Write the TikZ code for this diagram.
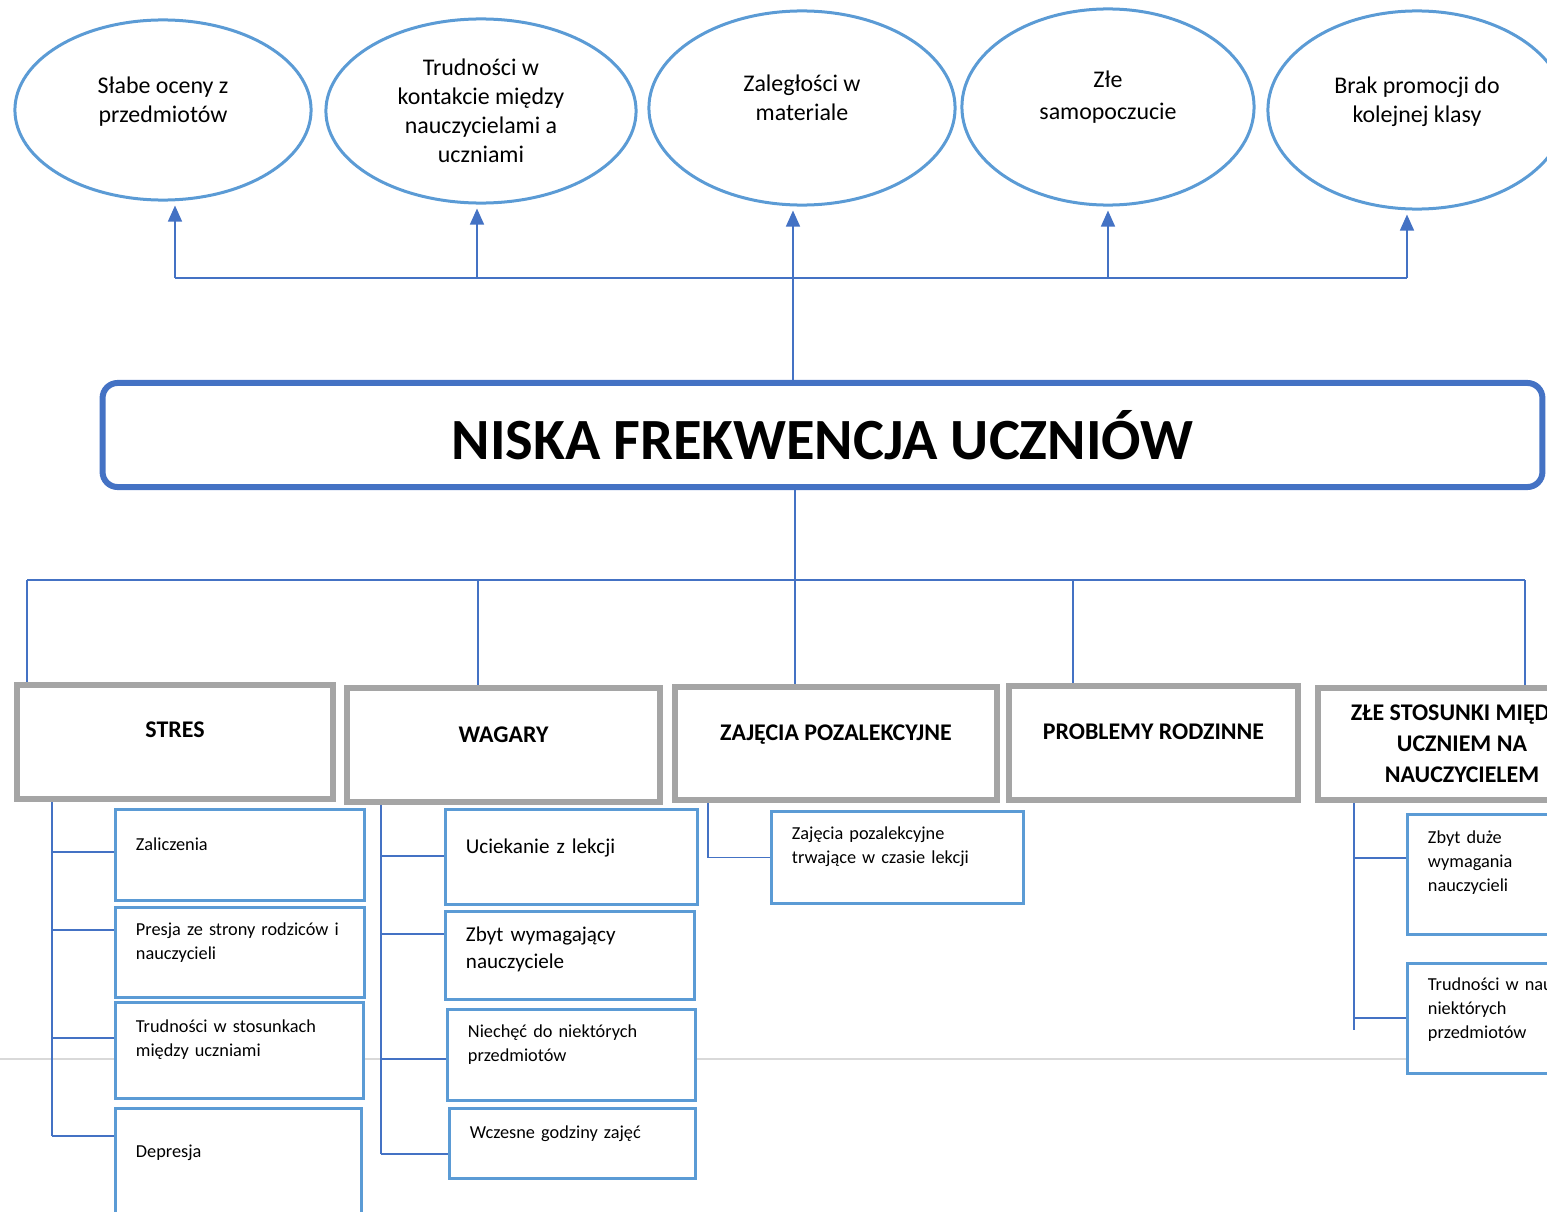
\documentclass[tikz,border=0pt]{standalone}
\usepackage{fontspec}
\setmainfont{Carlito}
\usetikzlibrary{shapes.geometric, arrows.meta}

\definecolor{effectblue}{HTML}{5B9BD5}
\definecolor{linkblue}{HTML}{4472C4}
\definecolor{causegray}{HTML}{A5A5A5}
\definecolor{pagegray}{HTML}{D9D9D9}

\begin{document}
\begin{tikzpicture}[x=0.01cm, y=-0.01cm]
	\tikzstyle{link}=[draw,line width=0.015cm,linkblue]
	\tikzstyle{arr}=[link,-{Triangle[width=0.14cm,length=0.16cm]},shorten >=0.04cm]
	\tikzstyle{effect}=[draw=effectblue,line width=0.03cm,ellipse,inner sep=0,align=center,font=\fontsize{6.8}{8.25}\selectfont]
	\tikzstyle{cause}=[draw=causegray,line width=0.06cm,fill=white,rectangle,inner sep=0,align=center,font=\fontsize{6.8}{8.8}\selectfont\bfseries]
	\tikzstyle{item}=[draw=effectblue,line width=0.03cm,fill=white,rectangle,inner xsep=0.2cm,inner ysep=0,align=left,text depth=0.22cm,font=\fontsize{5.2}{6.8}\selectfont]
	\tikzstyle{bigitem}=[item,font=\fontsize{6}{7.7}\selectfont]
	\useasboundingbox (0,0) rectangle (1547,1212);
	\clip (0,0) rectangle (1547,1212);
	\draw[pagegray,line width=0.02cm] (0,1059) -- (1547,1059);

	% effects
	\node[effect,minimum width=2.96cm,minimum height=1.80cm,text depth=0.2cm] (e1) at (163,110) {Słabe oceny z\\przedmiotów};
	\node[effect,minimum width=3.10cm,minimum height=1.84cm] (e2) at (481,111) {Trudności w\\kontakcie między\\nauczycielami a\\uczniami};
	\node[effect,minimum width=3.06cm,minimum height=1.94cm,text depth=0.2cm] (e3) at (802,108) {Zaległości w\\materiale};
	\node[effect,minimum width=2.92cm,minimum height=1.96cm,text depth=0.24cm] (e4) at (1108,107) {Złe\\[0.03cm]samopoczucie};
	\node[effect,minimum width=2.98cm,minimum height=1.98cm,text depth=0.2cm] (e5) at (1417,110) {Brak promocji do\\kolejnej klasy};

	\node[draw=linkblue,line width=0.06cm,rounded corners=0.15cm,minimum width=14.39cm,minimum height=1.04cm,font=\fontsize{16.6}{20}\selectfont\bfseries] (main) at (822.5,435) {NISKA FREKWENCJA UCZNIÓW};

	\foreach \n/\x in {b1/175,b2/477,b3/793,b4/1108,b5/1407}
		\coordinate (\n) at (\x,278);
	\draw[link] (b1) -- (b5);
	\foreach \n/\e in {b1/e1,b2/e2,b4/e4,b5/e5}
		\draw[arr] (\n) -- (\n |- \e.south);
	\draw[arr] (main.north -| b3) -- (b3 |- e3.south);

	% causes
	\node[cause,minimum width=3.16cm,minimum height=1.14cm,text depth=0.24cm] (stres) at (175,742) {STRES};
	\node[cause,minimum width=3.13cm,minimum height=1.14cm,text depth=0.2cm] (wagary) at (503.5,745) {WAGARY};
	\node[cause,minimum width=3.22cm,minimum height=1.13cm,text depth=0.21cm] (zaj) at (836,743.5) {ZAJĘCIA POZALEKCYJNE};
	\node[cause,minimum width=2.89cm,minimum height=1.14cm,text depth=0.22cm] (rodz) at (1153.5,743) {PROBLEMY RODZINNE};
	\node[cause,minimum width=2.88cm,minimum height=1.12cm] (zle) at (1462,744) {ZŁE STOSUNKI MIĘDZY\\UCZNIEM NA\\NAUCZYCIELEM};

	\foreach \n/\x in {c1/27,c2/478,c3/795,c4/1073,c5/1525}
		\coordinate (\n) at (\x,580);
	\draw[link] (c1) -- (c5);
	\draw[link] (main.south -| c3) -- (c3);
	\foreach \n/\c in {c1/stres,c2/wagary,c3/zaj,c4/rodz,c5/zle}
		\draw[link] (\n) -- (\n |- \c.north);

	% stres
	\node[item,text width=2.08cm,minimum height=0.90cm] (z1) at (240,855) {Zaliczenia};
	\node[item,text width=2.08cm,minimum height=0.89cm,text depth=0.46cm] (z2) at (240,952.5) {Presja ze strony rodziców i\\nauczycieli};
	\node[item,text width=2.07cm,minimum height=0.95cm,text depth=0.48cm] (z3) at (239.5,1050.5) {Trudności w stosunkach\\między uczniami};
	\node[item,text width=2.05cm,minimum height=1.06cm] (z4) at (238.5,1162) {Depresja};
	\coordinate (ss) at (52,1136);
	\draw[link] (stres.south -| ss) -- (ss);
	\foreach \n/\y in {z1/852,z2/930,z3/1038,z4/1136}
		\draw[link] (ss |- 0,\y) -- (\n.west |- 0,\y);

	% wagary
	\node[bigitem,text width=2.11cm,minimum height=0.94cm] (w1) at (571.5,857) {Uciekanie z lekcji};
	\node[bigitem,text width=2.08cm,minimum height=0.87cm,text depth=0.43cm] (w2) at (570,955.5) {Zbyt wymagający\\nauczyciele};
	\node[item,text width=2.07cm,minimum height=0.90cm,text depth=0.48cm] (w3) at (571.5,1055) {Niechęć do niektórych\\przedmiotów};
	\node[item,text width=2.05cm,minimum height=0.69cm] (w4) at (572.5,1143.5) {Wczesne godziny zajęć};
	\coordinate (ws) at (381,1154);
	\draw[link] (wagary.south -| ws) -- (ws);
	\foreach \n/\y in {w1/856,w2/934,w3/1059,w4/1154}
		\draw[link] (ws |- 0,\y) -- (\n.west |- 0,\y);

	% zajecia
	\node[item,text width=2.11cm,minimum height=0.91cm,text depth=0.48cm] (p1) at (897.5,857.5) {Zajęcia pozalekcyjne\\trwające w czasie lekcji};
	\coordinate (pz) at (708,857.5);
	\draw[link] (zaj.south -| pz) |- (p1.west);

	% zle stosunki
	\node[item,text width=1.52cm,minimum height=1.19cm,text depth=0.74cm] (s1) at (1504,874.5) {Zbyt duże\\wymagania\\nauczycieli};
	\node[item,text width=1.52cm,minimum height=1.09cm,text depth=0.68cm] (s2) at (1504,1018.5) {Trudności w nauce\\niektórych\\przedmiotów};
	\coordinate (zs) at (1354,1030);
	\draw[link] (zle.south -| zs) -- (zs);
	\foreach \n/\y in {s1/858,s2/1018}
		\draw[link] (zs |- 0,\y) -- (\n.west |- 0,\y);
\end{tikzpicture}
\end{document}
